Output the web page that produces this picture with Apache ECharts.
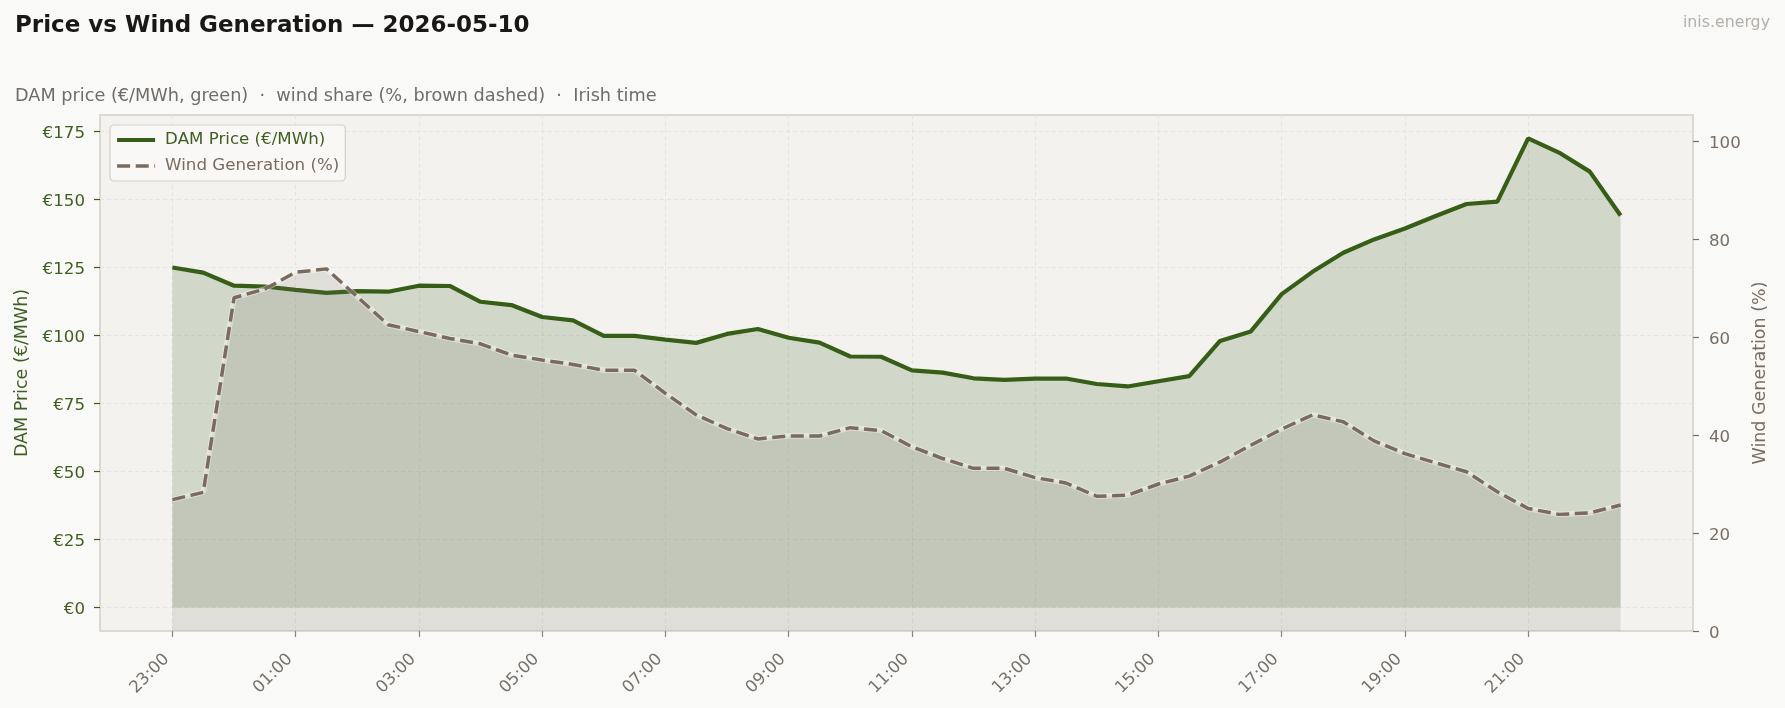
<!DOCTYPE html>
<html>
<head>
<meta charset="utf-8">
<script src="https://cdn.jsdelivr.net/npm/echarts@6/dist/echarts.min.js"></script>
<style>
  html, body { margin: 0; padding: 0; background: #f9f9f7; }
  #chart { width: 1785px; height: 708px; }
</style>
</head>
<body>
<div id="chart"></div>
<script>
const TIMES = [
  '23:00', '23:30', '00:00', '00:30', '01:00', '01:30', '02:00', '02:30',
  '03:00', '03:30', '04:00', '04:30', '05:00', '05:30', '06:00', '06:30',
  '07:00', '07:30', '08:00', '08:30', '09:00', '09:30', '10:00', '10:30',
  '11:00', '11:30', '12:00', '12:30', '13:00', '13:30', '14:00', '14:30',
  '15:00', '15:30', '16:00', '16:30', '17:00', '17:30', '18:00', '18:30',
  '19:00', '19:30', '20:00', '20:30', '21:00', '21:30', '22:00', '22:30',
];

// DAM price, €/MWh
const PRICE = [
  124.9, 123.0, 118.2, 117.9, 116.7, 115.6, 116.2, 116.0,
  118.2, 118.1, 112.3, 111.1, 106.7, 105.5, 99.8, 99.8,
  98.4, 97.2, 100.5, 102.3, 99.1, 97.3, 92.2, 92.1,
  87.1, 86.3, 84.2, 83.6, 84.1, 84.1, 82.1, 81.2,
  83.1, 85.0, 97.9, 101.4, 115.1, 123.3, 130.3, 135.2,
  139.2, 143.8, 148.2, 149.1, 172.3, 167.1, 160.1, 144.0,
];

// wind share, %
const WIND = [
  26.8, 28.3, 68.0, 69.8, 73.2, 73.9, 68.2, 62.5,
  61.1, 59.7, 58.6, 56.3, 55.3, 54.4, 53.2, 53.2,
  48.5, 44.1, 41.3, 39.2, 39.8, 39.8, 41.5, 40.9,
  37.6, 35.2, 33.2, 33.2, 31.3, 30.2, 27.5, 27.7,
  30.0, 31.6, 34.5, 37.9, 41.2, 44.1, 42.7, 38.8,
  36.2, 34.3, 32.5, 28.4, 25.0, 23.8, 24.1, 25.7,
];

const PRICE_TICKS = [0, 25, 50, 75, 100, 125, 150, 175];
const WIND_TICKS = [0, 20, 40, 60, 80, 100];
const TIME_TICKS = [0, 4, 8, 12, 16, 20, 24, 28, 32, 36, 40, 44];

const GREEN = '#375e17';
const GREEN_TEXT = '#3f5f22';
const BROWN = '#7a6b5e';
const GRID_LINE = { show: true, lineStyle: { type: [4, 3], color: '#e2e0db', width: 0.8 } };

const chart = echarts.init(document.getElementById('chart'));

const priceData = PRICE.map((v, i) => [i, v]);
const windData = WIND.map((v, i) => [i, v]);

chart.setOption({
  backgroundColor: '#f9f9f7',
  animation: false,
  textStyle: { fontFamily: 'DejaVu Sans' },
  title: [
    {
      text: 'Price vs Wind Generation — 2026-05-10',
      left: 15, top: 15, padding: 0,
      textStyle: { fontSize: 23, fontWeight: 'bold', color: '#1a1816', lineHeight: 23 },
    },
    {
      text: 'DAM price (€/MWh, green)  ·  wind share (%, brown dashed)  ·  Irish time',
      left: 15, top: 87, padding: 0,
      textStyle: { fontSize: 17.7, fontWeight: 'normal', color: '#716c67', lineHeight: 18 },
    },
    {
      text: 'inis.energy',
      right: 15, top: 15, padding: 0,
      textStyle: { fontSize: 15.8, fontWeight: 'normal', color: '#b3afaa', lineHeight: 16 },
    },
  ],
  grid: {
    left: 100, right: 92, top: 115, bottom: 77,
    show: true, backgroundColor: '#f3f2ef', borderColor: '#d3cfc9', borderWidth: 1.5,
  },
  legend: {
    orient: 'vertical',
    left: 110, top: 125,
    padding: [6, 6, 6, 5],
    itemGap: 8, itemWidth: 38, itemHeight: 12,
    backgroundColor: 'rgba(249,249,247,0.85)',
    borderColor: '#d3cfc9', borderWidth: 1.2, borderRadius: 4,
    textStyle: { fontSize: 16.67, lineHeight: 18, padding: [0, 0, 0, 5] },
    data: [
      {
        name: 'DAM Price (€/MWh)', textStyle: { color: GREEN_TEXT },
        itemStyle: { opacity: 0 }, lineStyle: { width: 4.2 },
      },
      {
        name: 'Wind Generation (%)', textStyle: { color: BROWN },
        itemStyle: { opacity: 0 }, lineStyle: { width: 3.5 },
      },
    ],
  },
  xAxis: {
    type: 'value',
    min: -2.35, max: 49.35,
    axisLine: { show: false, onZero: false },
    axisTick: { show: true, customValues: TIME_TICKS, length: 6, lineStyle: { color: '#8a847e', width: 1.2 } },
    axisLabel: {
      customValues: TIME_TICKS, rotate: 45, margin: 20,
      formatter: (v) => '{t|' + TIMES[v] + '}',
      rich: { t: { color: '#77716b', fontSize: 16.67, padding: [0, 8, 0, 0] } },
    },
    splitLine: GRID_LINE,
  },
  yAxis: [
    {
      type: 'value', position: 'left',
      min: -8.62, max: 180.9,
      axisLine: { show: false, onZero: false },
      axisTick: { show: true, customValues: PRICE_TICKS, length: 6, lineStyle: { color: GREEN, width: 1.2 } },
      axisLabel: {
        customValues: PRICE_TICKS, margin: 15,
        formatter: (v) => '{p|€' + v + '}',
        rich: { p: { color: GREEN_TEXT, fontSize: 16.67, padding: [5, 0, 0, 0] } },
      },
      splitLine: GRID_LINE,
      name: 'DAM Price (€/MWh)', nameLocation: 'middle', nameGap: 64,
      nameTextStyle: { color: GREEN_TEXT, fontSize: 17.5 },
    },
    {
      type: 'value', position: 'right',
      min: 0, max: 105.3,
      axisLine: { show: false, onZero: false },
      axisTick: { show: true, customValues: WIND_TICKS, length: 6, lineStyle: { color: BROWN, width: 1.2 } },
      axisLabel: {
        customValues: WIND_TICKS, margin: 16,
        formatter: (v) => '{w|' + v + '}',
        rich: { w: { color: '#7a6e64', fontSize: 16.67, padding: [5, 0, 0, 0] } },
      },
      splitLine: { show: false },
      name: 'Wind Generation (%)', nameLocation: 'middle', nameGap: 56,
      nameTextStyle: { color: '#7a6e64', fontSize: 17.5 },
    },
  ],
  series: [
    {
      name: 'DAM Price (€/MWh)', type: 'line', yAxisIndex: 0,
      data: priceData, symbol: 'none', z: 2,
      lineStyle: { color: GREEN, width: 4.2 },
      itemStyle: { color: GREEN },
      areaStyle: { color: 'rgba(58,95,26,0.18)', opacity: 1 },
      emphasis: { disabled: true },
    },
    {
      name: 'wind halo', type: 'line', yAxisIndex: 1,
      data: windData, symbol: 'none', z: 3, silent: true,
      lineStyle: { color: 'rgba(255,255,255,0.4)', width: 5.5 },
      areaStyle: { color: 'rgba(122,106,92,0.15)', opacity: 1 },
      emphasis: { disabled: true },
    },
    {
      name: 'Wind Generation (%)', type: 'line', yAxisIndex: 1,
      data: windData, symbol: 'none', z: 4,
      lineStyle: { color: BROWN, width: 3.5, type: [13, 5.6] },
      itemStyle: { color: BROWN },
      emphasis: { disabled: true },
    },
  ],
});

window.addEventListener('resize', () => chart.resize());
</script>
</body>
</html>
